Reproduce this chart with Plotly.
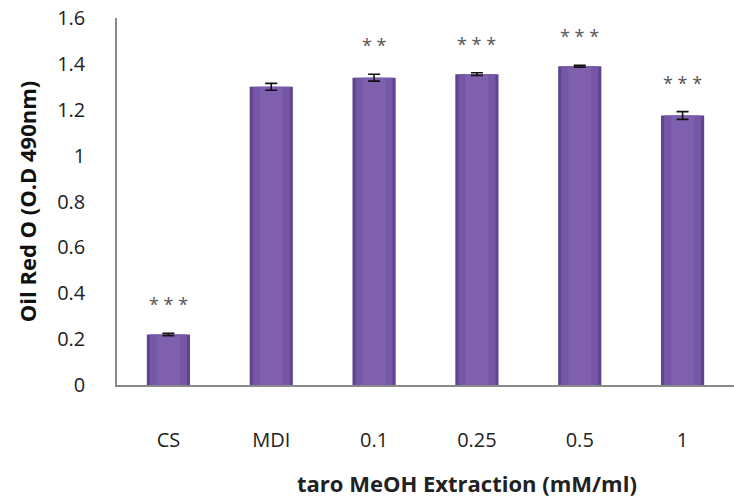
import plotly.graph_objects as go

# Oil Red O absorbance by treatment group
groups = ["CS", "MDI", "0.1", "0.25", "0.5", "1"]
od_means = [0.22, 1.30, 1.34, 1.355, 1.39, 1.175]
od_errors = [0.005, 0.015, 0.015, 0.006, 0.004, 0.017]
significance = ["***", "", "**", "***", "***", "***"]

y_ticks = [0, 0.2, 0.4, 0.6, 0.8, 1.0, 1.2, 1.4, 1.6]
y_tick_text = ["0", "0.2", "0.4", "0.6", "0.8", "1", "1.2", "1.4", "1.6"]

font_family = "Open Sans, Liberation Sans, sans-serif"

fig = go.Figure()

# Layered bars give the cylinder-like shading: dark rim, body, soft highlight
shade_layers = [
    ("#5f4490", 0.42),
    ("#7656a6", 0.36),
    ("#7f60ae", 0.22),
]
for color, width in shade_layers:
    fig.add_trace(go.Bar(
        x=groups, y=od_means, width=width,
        marker=dict(color=color, line=dict(width=0)),
        hoverinfo="skip", showlegend=False,
    ))

# Error bars drawn on top of the shading
fig.add_trace(go.Bar(
    x=groups, y=od_means, width=0.42,
    marker=dict(color="rgba(0,0,0,0)", line=dict(width=0)),
    error_y=dict(type="data", array=od_errors, visible=True,
                 color="#111111", thickness=1.6, width=6),
    showlegend=False,
))

# Significance marks above each bar (positioned by category index)
for i, (m, e, s) in enumerate(zip(od_means, od_errors, significance)):
    if s:
        fig.add_annotation(
            x=i, y=m + e, text=" ".join(s), showarrow=False,
            yanchor="middle", yshift=29,
            font=dict(family=font_family, size=18, color="#555555"),
        )

# X-axis title, set slightly right of the plot centre
fig.add_annotation(
    xref="paper", yref="paper", x=0.567, y=-0.268,
    text="<b>taro MeOH Extraction (mM/ml)</b>", showarrow=False,
    xanchor="center", yanchor="middle",
    font=dict(family=font_family, size=22, color="#222222"),
)

fig.update_layout(
    width=734, height=499,
    margin=dict(l=117, r=0, t=18, b=114),
    paper_bgcolor="white", plot_bgcolor="white",
    barmode="overlay",
    font=dict(family=font_family, size=20, color="#222222"),
    xaxis=dict(
        type="category", categoryorder="array", categoryarray=groups,
        range=[-0.5, 5.5],
        showline=True, linecolor="#8a8a8a", linewidth=1.5,
        ticks="", showgrid=False, zeroline=False,
        ticklabelstandoff=36,
        tickfont=dict(size=20, color="#222222"),
    ),
    yaxis=dict(
        range=[0, 1.6], tickvals=y_ticks, ticktext=y_tick_text,
        showline=True, linecolor="#8a8a8a", linewidth=1.5,
        ticks="", showgrid=False, zeroline=False,
        ticklabelstandoff=26,
        tickfont=dict(size=20, color="#222222"),
        title=dict(text="<b>Oil Red O (O.D 490nm)</b>",
                   font=dict(size=22, color="#111111"), standoff=14),
    ),
)

fig.write_html("out.html")
